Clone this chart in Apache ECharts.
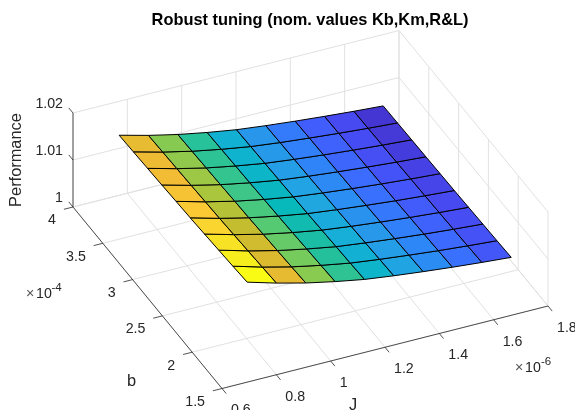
<!DOCTYPE html>
<html><head><meta charset="utf-8">
<style>html,body{margin:0;padding:0;background:#fff}#c{width:575px;height:410px}</style>
<script src="https://cdn.jsdelivr.net/npm/echarts@6/dist/echarts.min.js"></script>
</head><body><div id="c"></div>
<script>
// ---- data ----
var titleText = 'Robust tuning (nom. values Kb,Km,R&L)';
var jTicks = [0.6, 0.8, 1, 1.2, 1.4, 1.6, 1.8];   // x 1e-6
var bTicks = [1.5, 2, 2.5, 3, 3.5, 4];            // x 1e-4
var zTicks = [1, 1.01, 1.02];
var jValues = [0.72, 0.828, 0.936, 1.044, 1.152, 1.26, 1.368, 1.476, 1.584, 1.692];
var bValues = [1.625, 1.864, 2.102, 2.341, 2.58, 2.818, 3.057, 3.296, 3.534, 3.773];
// one row per b value, one column per J value
var perfRows = [
  [1.01894, 1.01716, 1.0156, 1.01432, 1.0132, 1.0124, 1.0117, 1.01106, 1.0105, 1.01],
  [1.01864, 1.01689, 1.01535, 1.01409, 1.01299, 1.01221, 1.01152, 1.01089, 1.01034, 1.00985],
  [1.01838, 1.01665, 1.01514, 1.0139, 1.01281, 1.01204, 1.01136, 1.01074, 1.0102, 1.00972],
  [1.01812, 1.01641, 1.01493, 1.0137, 1.01264, 1.01187, 1.0112, 1.0106, 1.01006, 1.00959],
  [1.01788, 1.01619, 1.01473, 1.01352, 1.01247, 1.01172, 1.01106, 1.01046, 1.00994, 1.00947],
  [1.0177, 1.01603, 1.01458, 1.01338, 1.01235, 1.0116, 1.01095, 1.01036, 1.00984, 1.00938],
  [1.0175, 1.01585, 1.01441, 1.01323, 1.01221, 1.01147, 1.01083, 1.01025, 1.00973, 1.00928],
  [1.01734, 1.0157, 1.01428, 1.01311, 1.0121, 1.01137, 1.01073, 1.01016, 1.00965, 1.0092],
  [1.01718, 1.01556, 1.01415, 1.01299, 1.01199, 1.01126, 1.01064, 1.01007, 1.00956, 1.00912],
  [1.01702, 1.01541, 1.01402, 1.01287, 1.01188, 1.01116, 1.01054, 1.00998, 1.00948, 1.00904]
];
var parula = ['#3E26A8','#4435D0','#4748F0','#4358FA','#3A6FFF','#2E87F7','#2797EB','#1FA8DF','#12B1D3','#07B9BC',
              '#20BFA0','#36C58C','#5ACA70','#7FCB56','#A5C73F','#C8BC2E','#DFBA30','#F1BC35','#FCCB34','#F6E524','#F9FB15'];

// ---- view of the 3-D box (orthographic) ----
var jLim = [0.6, 1.8], bLim = [1.5, 4], zLim = [1, 1.02];
var O = [222, 388.5], UJ = [326, -82.5], UB = [-149, -181.5], UZ = [0, -94];
function project(J, b, z) {
  var a = (J - jLim[0]) / (jLim[1] - jLim[0]), c = (b - bLim[0]) / (bLim[1] - bLim[0]), d = (z - zLim[0]) / (zLim[1] - zLim[0]);
  return [O[0] + a * UJ[0] + c * UB[0] + d * UZ[0], O[1] + a * UJ[1] + c * UB[1] + d * UZ[1]];
}

// grid lines
var gridSegs = [];
jTicks.forEach(function (J) {
  gridSegs.push([J, bLim[0], zLim[0], J, bLim[1], zLim[0]]);
  gridSegs.push([J, bLim[1], zLim[0], J, bLim[1], zLim[1]]);
});
bTicks.forEach(function (b) {
  gridSegs.push([jLim[0], b, zLim[0], jLim[1], b, zLim[0]]);
  gridSegs.push([jLim[1], b, zLim[0], jLim[1], b, zLim[1]]);
});
zTicks.forEach(function (z) {
  gridSegs.push([jLim[0], bLim[1], z, jLim[1], bLim[1], z]);
  gridSegs.push([jLim[1], bLim[0], z, jLim[1], bLim[1], z]);
});
// axis lines
var axisSegs = [
  [jLim[0], bLim[0], zLim[0], jLim[1], bLim[0], zLim[0]],
  [jLim[0], bLim[0], zLim[0], jLim[0], bLim[1], zLim[0]],
  [jLim[0], bLim[1], zLim[0], jLim[0], bLim[1], zLim[1]]
];
var tickFrac = 0.028;
var tickSegs = [];
jTicks.forEach(function (J) { tickSegs.push([J, bLim[0], zLim[0], J, bLim[0] - tickFrac * (bLim[1] - bLim[0]), zLim[0]]); });
bTicks.forEach(function (b) { tickSegs.push([jLim[0], b, zLim[0], jLim[0] - tickFrac * (jLim[1] - jLim[0]), b, zLim[0]]); });
zTicks.forEach(function (z) { tickSegs.push([jLim[0], bLim[1], z, jLim[0], bLim[1] + tickFrac * (bLim[1] - bLim[0]), z]); });

// surface cells: colour comes from the low-J, low-b corner
var cells = [];
for (var l = 0; l < bValues.length - 1; l++) {
  for (var i = 0; i < jValues.length - 1; i++) {
    cells.push([jValues[i], bValues[l], perfRows[l][i], jValues[i + 1], bValues[l + 1],
                perfRows[l][i + 1], perfRows[l + 1][i + 1], perfRows[l + 1][i]]);
  }
}
var allPerf = perfRows.reduce(function (a, r) { return a.concat(r); }, []);

function pt(api, J, b, z) { return api.coord(project(J, b, z)); }
function segSeries(name, segs, color, width, z2) {
  return {
    type: 'custom', name: name, silent: true, z: z2, data: segs, encode: { x: [], y: [] },
    renderItem: function (p, api) {
      var s = segs[p.dataIndex], a = pt(api, s[0], s[1], s[2]), b = pt(api, s[3], s[4], s[5]);
      return { type: 'line', shape: { x1: a[0], y1: a[1], x2: b[0], y2: b[1] }, style: { stroke: color, lineWidth: width, fill: null } };
    }
  };
}
function labelSeries(name, items, dx, dy, align) {
  return {
    type: 'custom', name: name, silent: true, z: 6, data: items, encode: { x: [], y: [] },
    renderItem: function (p, api) {
      var it = items[p.dataIndex], a = pt(api, it[0], it[1], it[2]);
      return { type: 'text', x: a[0] + dx, y: a[1] + dy,
        style: { text: String(it[3]), fill: '#262626', font: '14.2px "Liberation Sans"', textAlign: align, textVerticalAlign: 'middle' } };
    }
  };
}

var chart = echarts.init(document.getElementById('c'), null, { renderer: 'canvas', width: 575, height: 410 });
var font = '"Liberation Sans"';
chart.setOption({
  animation: false,
  backgroundColor: '#fff',
  title: { text: titleText, left: 305, top: 7, textAlign: 'center',
           textStyle: { fontFamily: font, fontSize: 16.4, fontWeight: 'bold', color: '#000' } },
  grid: { left: 0, right: 0, top: 0, bottom: 0 },
  xAxis: { type: 'value', min: 0, max: 575, show: false },
  yAxis: { type: 'value', min: 0, max: 410, inverse: true, show: false },
  visualMap: { show: false, type: 'continuous', seriesIndex: 3, dimension: 2,
               min: Math.min.apply(null, allPerf), max: Math.max.apply(null, allPerf),
               inRange: { color: parula } },
  graphic: [
    { type: 'text', x: 16, y: 160, rotation: Math.PI / 2, silent: true,
      style: { text: 'Performance', fill: '#262626', font: '16.4px ' + font, textAlign: 'center', textVerticalAlign: 'middle' } },
    { type: 'text', x: 131.5, y: 381, silent: true, style: { text: 'b', fill: '#262626', font: '16.4px ' + font, textAlign: 'center', textVerticalAlign: 'middle' } },
    { type: 'text', x: 353, y: 405, silent: true, style: { text: 'J', fill: '#262626', font: '16.4px ' + font, textAlign: 'center', textVerticalAlign: 'middle' } },
    { type: 'text', x: 26, y: 294, silent: true, style: { text: '\u00d7', fill: '#555', font: '14.2px ' + font, textVerticalAlign: 'middle' } },
    { type: 'text', x: 36, y: 294, silent: true, style: { text: '10', fill: '#262626', font: '14.2px ' + font, textVerticalAlign: 'middle' } },
    { type: 'text', x: 51.5, y: 288, silent: true, style: { text: '-4', fill: '#262626', font: '11.5px ' + font, textVerticalAlign: 'middle' } },
    { type: 'text', x: 515, y: 368, silent: true, style: { text: '\u00d7', fill: '#555', font: '14.2px ' + font, textVerticalAlign: 'middle' } },
    { type: 'text', x: 525, y: 368, silent: true, style: { text: '10', fill: '#262626', font: '14.2px ' + font, textVerticalAlign: 'middle' } },
    { type: 'text', x: 541, y: 362, silent: true, style: { text: '-6', fill: '#262626', font: '11.5px ' + font, textVerticalAlign: 'middle' } }
  ],
  series: [
    segSeries('grid', gridSegs, '#E1E1E1', 1, 1),
    segSeries('axes', axisSegs, '#262626', 0.8, 2),
    segSeries('ticks', tickSegs, '#262626', 0.8, 2),
    {
      type: 'custom', name: 'surface', silent: true, z: 4, data: cells,
      encode: { x: [], y: [] },
      renderItem: function (p, api) {
        var c = cells[p.dataIndex];
        var pts = [pt(api, c[0], c[1], c[2]), pt(api, c[3], c[1], c[5]), pt(api, c[3], c[4], c[6]), pt(api, c[0], c[4], c[7])];
        return { type: 'polygon', shape: { points: pts }, style: { fill: api.visual('color'), stroke: '#000', lineWidth: 1 } };
      }
    },
    labelSeries('jLabels', jTicks.map(function (v) { return [v, bLim[0], zLim[0], v]; }), 9, 22, 'left'),
    labelSeries('bLabels', bTicks.map(function (v) { return [jLim[0], v, zLim[0], v]; }), -17, 13.5, 'right'),
    labelSeries('zLabels', zTicks.map(function (v) { return [jLim[0], bLim[1], v, v]; }), -10, -9, 'right')
  ]
});
</script></body></html>
